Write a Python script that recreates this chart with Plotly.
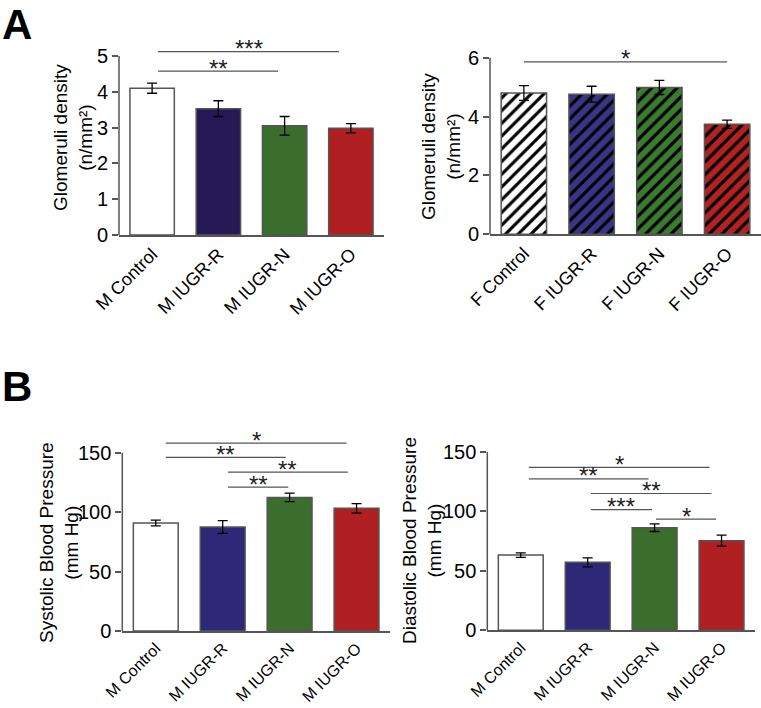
import plotly.graph_objects as go

W, H = 761, 708
FONT = "Liberation Sans, Arial, sans-serif"

# panel A - glomeruli density
male_groups = ["M Control", "M IUGR-R", "M IUGR-N", "M IUGR-O"]
female_groups = ["F Control", "F IUGR-R", "F IUGR-N", "F IUGR-O"]
glom_male = [4.10, 3.53, 3.05, 2.98]
glom_male_err = [0.14, 0.22, 0.26, 0.13]
glom_female = [4.80, 4.76, 4.99, 3.74]
glom_female_err = [0.25, 0.27, 0.24, 0.14]

# panel B - blood pressure (males)
systolic = [90.8, 87.5, 112.4, 103.2]
systolic_err = [2.4, 5.3, 3.6, 4.0]
diastolic = [63.3, 57.2, 86.3, 75.4]
diastolic_err = [1.9, 3.8, 3.2, 4.6]

# significance bars: (from, to, height, label)
sig_glom_male = [(0.09, 2.82, 5.12, "***"), (0.09, 1.90, 4.58, "**")]
sig_glom_female = [(0.0, 3.0, 5.86, "*")]
sig_systolic = [(0.15, 2.85, 158, "*"), (0.15, 1.94, 146, "**"),
                (1.08, 2.87, 133.7, "**"), (1.08, 1.98, 121, "**")]
sig_diastolic = [(0.12, 2.82, 137, "*"), (0.12, 1.91, 127.4, "**"),
                 (1.05, 2.85, 115.1, "**"), (1.05, 1.96, 101.6, "***"),
                 (2.02, 2.92, 93.6, "*")]

colors_a = ["#ffffff", "#251a55", "#3b6e2d", "#b01f22"]
colors_af = ["#ffffff", "#3a3488", "#3b7a2f", "#b22222"]
colors_b = ["#ffffff", "#2f2878", "#3b6e2d", "#b01f22"]


def px_x(a, b):
    return [a / W, b / W]


def px_y(zero_px, top_px):
    return [1 - zero_px / H, 1 - top_px / H]


panels = [
    dict(cats=male_groups, vals=glom_male, errs=glom_male_err, colors=colors_a, hatch=False,
         sig=sig_glom_male, ytop=5, yr=[0, 5.5], tickvals=[0, 1, 2, 3, 4, 5], xfont=18,
         title="Glomeruli density<br>(n/mm²)", tpos=(73, 138),
         xd=px_x(119, 384), yd=px_y(235, 235 - 5.5 * 35.8)),
    dict(cats=female_groups, vals=glom_female, errs=glom_female_err, colors=colors_af, hatch=True,
         sig=sig_glom_female, ytop=6, yr=[0, 6.4], tickvals=[0, 2, 4, 6], xfont=18,
         title="Glomeruli density<br>(n/mm²)", tpos=(441, 147),
         xd=px_x(490, 761), yd=px_y(234.3, 234.3 - 6.4 * 29.43)),
    dict(cats=male_groups, vals=systolic, errs=systolic_err, colors=colors_b, hatch=False,
         sig=sig_systolic, ytop=150, yr=[0, 165], tickvals=[0, 50, 100, 150], xfont=16,
         title="Systolic Blood Pressure<br>(mm Hg)", tpos=(59, 543),
         xd=px_x(122.3, 390), yd=px_y(631, 631 - 165 * 1.1887)),
    dict(cats=male_groups, vals=diastolic, errs=diastolic_err, colors=colors_b, hatch=False,
         sig=sig_diastolic, ytop=150, yr=[0, 150], tickvals=[0, 50, 100, 150], xfont=16,
         title="Diastolic Blood Pressure<br>(mm Hg)", tpos=(422, 541),
         xd=px_x(487.3, 755), yd=px_y(630.3, 452)),
]

fig = go.Figure()
layout = dict(width=W, height=H, margin=dict(l=0, r=0, t=0, b=0, autoexpand=False),
              paper_bgcolor="white", plot_bgcolor="white", showlegend=False,
              font=dict(family=FONT, size=19, color="black"), bargap=0.33, barmode="overlay")
shapes = []
annotations = []
err_style = dict(type="data", color="black", thickness=1.3, width=5)

for i, p in enumerate(panels):
    n = "" if i == 0 else str(i + 1)
    xa, ya = "x" + n, "y" + n
    if p["hatch"]:
        # one trace per bar so the hatch keeps a black foreground
        for k in range(4):
            fig.add_trace(go.Bar(
                x=[k], y=[p["vals"][k]], xaxis=xa, yaxis=ya, width=0.67,
                marker=dict(color=p["colors"][k], line=dict(color="#555555", width=1.5),
                            pattern=dict(shape="/", fillmode="replace", bgcolor=p["colors"][k],
                                         fgcolor="#000000", fgopacity=1, size=9, solidity=0.35)),
                error_y=dict(array=[p["errs"][k]], **err_style)))
    else:
        fig.add_trace(go.Bar(x=list(range(4)), y=p["vals"], xaxis=xa, yaxis=ya, width=0.67,
                             marker=dict(color=p["colors"], line=dict(color="#555555", width=1.5)),
                             error_y=dict(array=p["errs"], **err_style)))
    layout["xaxis" + n] = dict(domain=p["xd"], anchor=ya, range=[-0.5, 3.5], tickmode="array",
                               tickvals=list(range(4)), ticktext=p["cats"], tickangle=-45,
                               showline=True, linecolor="#555555", linewidth=1.5, ticks="",
                               showgrid=False, zeroline=False, automargin=False,
                               tickfont=dict(size=p["xfont"]))
    layout["yaxis" + n] = dict(domain=p["yd"], anchor=xa, range=p["yr"], tickvals=p["tickvals"],
                               ticks="outside", ticklen=6, tickcolor="#555555", tickwidth=1.5,
                               showline=False, showgrid=False, zeroline=False, automargin=False,
                               tickfont=dict(size=20))
    annotations.append(dict(x=p["tpos"][0] / W, y=1 - p["tpos"][1] / H, xref="paper", yref="paper",
                            text=p["title"], textangle=-90, showarrow=False,
                            xanchor="center", yanchor="middle", font=dict(size=19)))
    # y axis line only up to the top tick
    shapes.append(dict(type="line", xref=xa + " domain", yref=ya, x0=0, x1=0, y0=0, y1=p["ytop"],
                       line=dict(color="#555555", width=1.5)))
    for x0, x1, h, lab in p["sig"]:
        shapes.append(dict(type="line", xref=xa, yref=ya, x0=x0, x1=x1, y0=h, y1=h,
                           line=dict(color="#555555", width=1.2)))
        annotations.append(dict(x=(x0 + x1) / 2, y=h, xref=xa, yref=ya, text=lab, showarrow=False,
                                yanchor="middle", yshift=3, font=dict(size=24, color="#222222")))

annotations.append(dict(x=0, y=1, xref="paper", yref="paper", text="<b>A</b>", showarrow=False,
                        xanchor="left", yanchor="top", yshift=1, xshift=0, font=dict(size=42)))
annotations.append(dict(x=0, y=1 - 373 / H, xref="paper", yref="paper", text="<b>B</b>", showarrow=False,
                        xanchor="left", yanchor="top", yshift=12, xshift=0, font=dict(size=42)))
layout["shapes"] = shapes
layout["annotations"] = annotations
fig.update_layout(**layout)
fig.write_html("out.html", config={"displayModeBar": False},
               post_script="document.body.style.margin='0';")
